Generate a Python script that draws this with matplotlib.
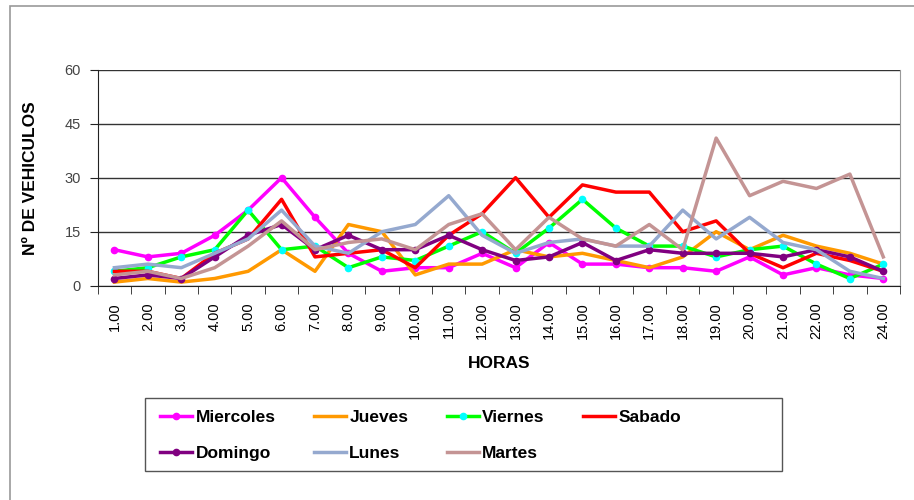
import matplotlib.pyplot as plt
from matplotlib.patches import Rectangle
from matplotlib.ticker import FixedLocator
import numpy as np

plt.rcParams['font.family'] = ['Liberation Sans', 'DejaVu Sans']

horas = ["%.2f" % h for h in range(1, 25)]

miercoles = [10, 8, 9, 14, 21, 30, 19, 9, 4, 5, 5, 9, 5, 12, 6, 6, 5, 5, 4, 8, 3, 5, 3, 2]
jueves = [1, 2, 1, 2, 4, 10, 4, 17, 15, 3, 6, 6, 10, 8, 9, 7, 5, 8, 15, 10, 14, 11, 9, 6]
viernes = [4, 5, 8, 10, 21, 10, 11, 5, 8, 7, 11, 15, 9, 16, 24, 16, 11, 11, 8, 10, 11, 6, 2, 6]
sabado = [4, 4, 2, 9, 13, 24, 8, 9, 10, 5, 14, 20, 30, 19, 28, 26, 26, 15, 18, 9, 5, 9, 7, 4]
domingo = [2, 3, 2, 8, 14, 17, 10, 14, 10, 10, 14, 10, 7, 8, 12, 7, 10, 9, 9, 9, 8, 10, 8, 4]
lunes = [5, 6, 5, 9, 13, 21, 11, 9, 15, 17, 25, 14, 9, 12, 13, 11, 11, 21, 13, 19, 12, 10, 4, 2]
martes = [3, 4, 2, 5, 11, 18, 10, 12, 13, 10, 17, 20, 10, 19, 13, 11, 17, 10, 41, 25, 29, 27, 31, 8]

fig = plt.figure(figsize=(9.14, 5.0), dpi=100)
ax = fig.add_axes([0.1069, 0.4286, 0.8778, 0.432])

x = np.arange(len(horas))
lw = 2.5
ms = 4.5
lines = {}
# same drawing order as the original workbook
lines["Miercoles"] = ax.plot(x, miercoles, color="#FF00FF", lw=lw, marker="o", ms=ms, mfc="#FF00FF", mec="#FF00FF")[0]
lines["Jueves"] = ax.plot(x, jueves, color="#FF9900", lw=lw)[0]
lines["Viernes"] = ax.plot(x, viernes, color="#00FF00", lw=lw, marker="o", ms=ms, mfc="#00FFFF", mec="#00FFFF")[0]
lines["Sabado"] = ax.plot(x, sabado, color="#FF0000", lw=lw)[0]
lines["Domingo"] = ax.plot(x, domingo, color="#800080", lw=lw, marker="o", ms=ms, mfc="#800080", mec="#800080")[0]
lines["Lunes"] = ax.plot(x, lunes, color="#95A9CF", lw=lw)[0]
lines["Martes"] = ax.plot(x, martes, color="#C49494", lw=lw)[0]

ax.set_xlim(-0.5, len(horas) - 0.5)
ax.set_ylim(0, 60)
ax.set_yticks([0, 15, 30, 45, 60])
ax.yaxis.grid(True, color="#333333", lw=1)
ax.set_axisbelow(True)

ax.set_xticks(x)
ax.set_xticklabels(horas, rotation=90, fontsize=10.5)
ax.tick_params(axis="x", which="major", length=0, pad=12)
ax.xaxis.set_minor_locator(FixedLocator(np.arange(-0.5, len(horas), 1)))
ax.tick_params(axis="x", which="minor", length=6, color="#222222")
ax.tick_params(axis="y", length=6, labelsize=10.5, labelcolor="#444444", color="#222222", pad=6)

ax.spines["top"].set_visible(False)
ax.spines["right"].set_color("#999999")
ax.spines["left"].set_color("#222222")
ax.spines["bottom"].set_color("#222222")

ax.set_ylabel("Nº DE VEHICULOS", fontsize=12.5, fontweight="bold")
ax.yaxis.set_label_coords(-0.0744, 0.5)
ax.set_xlabel("HORAS", fontsize=12.5, fontweight="bold", va="center")
ax.xaxis.set_label_coords(0.5, -0.358)

# legend filled column by column -> reorder so rows read like the original
order = ["Miercoles", "Domingo", "Jueves", "Lunes", "Viernes", "Martes", "Sabado"]
fig.legend([lines[k] for k in order], order, loc="upper left",
           bbox_to_anchor=(160 / 914, 1 - 410 / 500), ncol=4, frameon=False,
           borderpad=0, borderaxespad=0, handlelength=1.85, handletextpad=0.2,
           columnspacing=2.2, labelspacing=1.2,
           prop={"weight": "bold", "size": 12.5})

# legend box and chart area border
fig.patches.append(Rectangle((145 / 914, 1 - 471 / 500), 637 / 914, 73 / 500,
                             transform=fig.transFigure, fill=False, ec="#555555", lw=1))
fig.patches.append(Rectangle((9.5 / 914, -0.05), 1.0, 1.05 - 6 / 500,
                             transform=fig.transFigure, fill=False, ec="#999999", lw=1.2))

plt.savefig("out.png", dpi=100)
